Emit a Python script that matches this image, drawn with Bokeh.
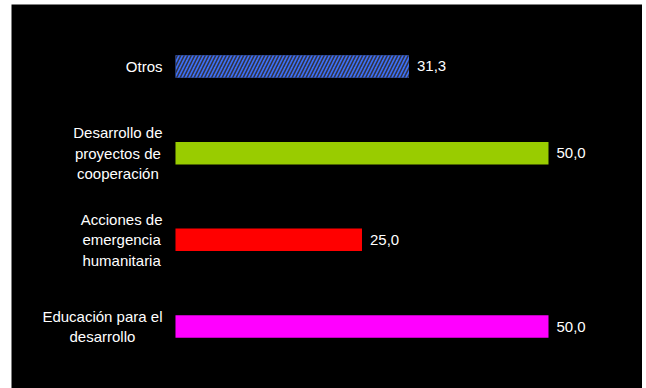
from bokeh.plotting import figure
from bokeh.models import ColumnDataSource, Range1d, FactorRange
from bokeh.core.properties import value
from bokeh.embed import file_html
from bokeh.resources import INLINE

# Data (top to bottom as shown)
categories = ["Otros",
              "Desarrollo de\nproyectos de\ncooperación",
              "Acciones de\nemergencia\nhumanitaria",
              "Educación para el\ndesarrollo"]
values = [31.3, 50.0, 25.0, 50.0]
value_labels = ["31,3", "50,0", "25,0", "50,0"]

# styles
bar_colors = ["#3d70f7", "#99cc00", "#ff0000", "#ff00ff"]
bar_hatch = ["right_diagonal_line", " ", " ", " "]

src = ColumnDataSource(dict(cat=categories, val=values, lab=value_labels,
                            color=bar_colors, hatch=bar_hatch,
                            zero=[0] * len(values)))

p = figure(width=631, height=384, output_backend="svg", toolbar_location=None,
           x_range=Range1d(-21.98, 62.6),
           y_range=FactorRange(factors=categories[::-1], range_padding=0.215,
                               range_padding_units="absolute"),
           min_border=0, margin=(4, 0, 0, 11))
p.axis.visible = False
p.grid.visible = False
p.outline_line_color = None
p.background_fill_color = "black"
p.border_fill_color = "black"

p.hbar(y="cat", left=0, right="val", height=0.26, source=src,
       fill_color="color", line_color=None,
       hatch_pattern="hatch", hatch_color="#303244", hatch_scale=7, hatch_weight=1.6)

# category labels (block anchored right, lines centered)
p.text(x="zero", y="cat", text="cat", source=src, x_offset=-13,
       anchor=value("center_right"), text_align="center", text_baseline="middle",
       text_color="white", text_font=value("Liberation Sans"),
       text_font_size="15px", text_line_height=1.2)

# value labels
p.text(x="val", y="cat", text="lab", source=src, x_offset=8,
       text_align="left", text_baseline="middle",
       text_color="white", text_font=value("Liberation Sans"),
       text_font_size="15px")

open("out.html", "w").write(file_html(p, INLINE))
